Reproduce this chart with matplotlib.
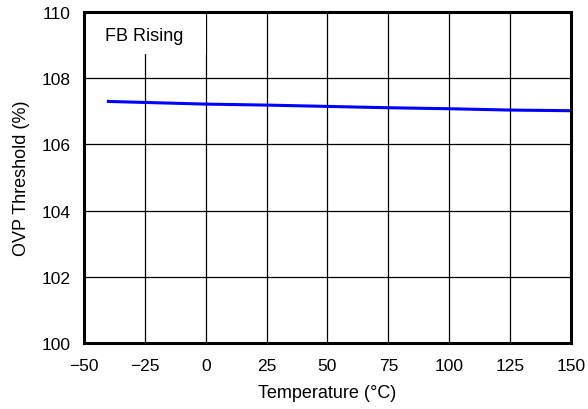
import matplotlib
matplotlib.use("Agg")
import matplotlib.pyplot as plt
from matplotlib.patches import Rectangle

# temperature sweep and OVP threshold (FB rising)
temperature_c = [-40, -25, 0, 25, 50, 75, 100, 125, 150]
ovp_threshold_pct = [107.30, 107.27, 107.22, 107.19, 107.15, 107.11, 107.08, 107.04, 107.02]

x_ticks = [-50, -25, 0, 25, 50, 75, 100, 125, 150]
y_ticks = [100, 102, 104, 106, 108, 110]


def setup_style() -> None:
    plt.rcParams.update({"font.family": ["Liberation Sans", "DejaVu Sans"], "font.size": 12})


def make_figure() -> None:
    setup_style()
    fig = plt.figure(figsize=(5.88, 4.10), dpi=100)
    ax = fig.add_axes([0.1429, 0.161, 0.828, 0.807])

    ax.plot(temperature_c, ovp_threshold_pct, color="#0000ff", lw=2.2, zorder=3)

    ax.set_xlim(-50, 150)
    ax.set_ylim(100, 110)
    ax.set_xticks(x_ticks)
    ax.set_yticks(y_ticks)
    ax.grid(True, color="black", lw=0.9)
    ax.set_axisbelow(True)
    ax.tick_params(axis="x", length=0, pad=11, labelsize=12.5)
    ax.tick_params(axis="y", length=0, pad=10, labelsize=12.5)
    for sp in ax.spines.values():
        sp.set_linewidth(2.2)
        sp.set_zorder(5)

    # white label box that hides the grid in the top-left corner
    ax.add_patch(Rectangle((-50, 108.73), 50, 1.27, facecolor="white", edgecolor="none", zorder=2))
    ax.text(-41.5, 109.3, "FB Rising", fontsize=13, va="center", ha="left", zorder=4)

    ax.set_xlabel("Temperature (°C)", fontsize=13, labelpad=8)
    ax.set_ylabel("OVP Threshold (%)", fontsize=13, labelpad=8)

    fig.savefig("out.png", dpi=100)
    plt.close(fig)


if __name__ == "__main__":
    make_figure()
